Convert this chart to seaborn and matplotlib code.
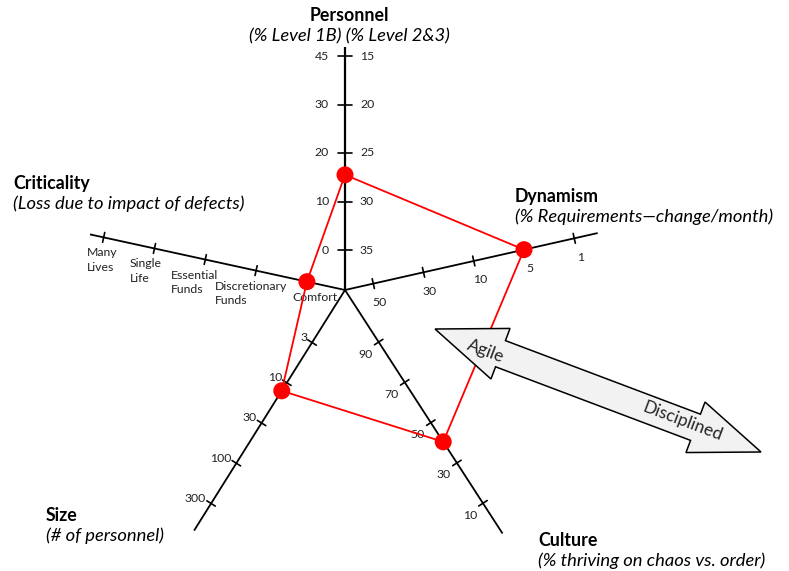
import matplotlib

matplotlib.use("Agg")
import matplotlib.patches as mpatches
import matplotlib.pyplot as plt
import numpy as np
import pandas as pd
import seaborn as sns

sns.set_theme(style="white")
plt.rcParams["font.family"] = ["Lato", "DejaVu Sans"]

# --- chart data -----------------------------------------------------------
personnel_1b_ticks = [0, 10, 20, 30, 45]
personnel_23_ticks = [35, 30, 25, 20, 15]
criticality_ticks = ["Comfort", "Discretionary\nFunds", "Essential\nFunds", "Single\nLife", "Many\nLives"]
dynamism_ticks = [50, 30, 10, 5, 1]
size_ticks = [3, 10, 30, 100, 300]
culture_ticks = [90, 70, 50, 30, 10]

personnel_value = 15.5      # % level 1B
criticality_value = "Comfort"
dynamism_value = 5
size_value = 14
culture_value = 40.5

# --- layout (pixel space, y down) -------------------------------------------
CX, CY = 345, 290
AXES = {
    # name: (angle deg, length, first tick radius, tick spacing)
    "Personnel": (90.0, 243, 40, 48.5),
    "Criticality": (167.7, 261, 39, 52),
    "Dynamism": (12.7, 259, 29, 51.5),
    "Size": (237.9, 284, 62, 47.5),
    "Culture": (302.9, 290, 62, 48),
}
CRIT_LABEL_DX = [8, -5, -11, -9, -1]   # nudges so the wrapped labels don't collide


def pt(name, r):
    ang = np.deg2rad(AXES[name][0])
    return CX + r * np.cos(ang), CY - r * np.sin(ang)


def tick_r(name, idx):
    _, _, first, step = AXES[name]
    return first + step * idx


def value_index(ticks, value):
    if isinstance(value, str):
        return ticks.index(value)
    t = np.asarray(ticks, dtype=float)
    idx = np.arange(len(t))
    if t[0] > t[-1]:
        t, idx = t[::-1], idx[::-1]
    return float(np.interp(value, t, idx))


fig = plt.figure(figsize=(7.89, 5.71), dpi=100)
ax = fig.add_axes([0, 0, 1, 1])

# axis spokes + tick marks
for name, (ang, length, first, step) in AXES.items():
    x1, y1 = pt(name, length)
    ax.plot([CX, x1], [CY, y1], color="black", lw=1.6 if name == "Personnel" else 1.3,
            solid_capstyle="butt", zorder=2)
    a = np.deg2rad(ang)
    nx, ny = -np.sin(a), -np.cos(a)
    half = 7 if name == "Personnel" else 5
    for k in range(5):
        tx, ty = pt(name, tick_r(name, k))
        ax.plot([tx - nx * half, tx + nx * half], [ty - ny * half, ty + ny * half],
                color="black", lw=1.2, zorder=2)

tick_kw = dict(fontsize=8.8, color="#222222")

for k, (left, right) in enumerate(zip(personnel_1b_ticks, personnel_23_ticks)):
    tx, ty = pt("Personnel", tick_r("Personnel", k))
    ax.text(tx - 16, ty, str(left), ha="right", va="center", **tick_kw)
    ax.text(tx + 15, ty, str(right), ha="left", va="center", **tick_kw)

for k, lab in enumerate(criticality_ticks):
    tx, ty = pt("Criticality", tick_r("Criticality", k))
    ax.text(tx + CRIT_LABEL_DX[k], ty + 10, lab, ha="center", va="top", multialignment="left",
            linespacing=1.35, **tick_kw)

for k, lab in enumerate(dynamism_ticks):
    tx, ty = pt("Dynamism", tick_r("Dynamism", k))
    ax.text(tx + 6, ty + 19, str(lab), ha="center", va="center", **tick_kw)

for k, lab in enumerate(size_ticks):
    tx, ty = pt("Size", tick_r("Size", k))
    ax.text(tx - 5, ty - 5, str(lab), ha="right", va="center", **tick_kw)

for k, lab in enumerate(culture_ticks):
    tx, ty = pt("Culture", tick_r("Culture", k))
    ax.text(tx - 13, ty + 12, str(lab), ha="center", va="center", **tick_kw)

# profile polygon
profile = [
    ("Personnel", value_index(personnel_1b_ticks, personnel_value)),
    ("Dynamism", value_index(dynamism_ticks, dynamism_value)),
    ("Culture", value_index(culture_ticks, culture_value)),
    ("Size", value_index(size_ticks, size_value)),
    ("Criticality", value_index(criticality_ticks, criticality_value)),
]
xs, ys = zip(*[pt(n, tick_r(n, i)) for n, i in profile])
df = pd.DataFrame({"x": list(xs) + [xs[0]], "y": list(ys) + [ys[0]]})
sns.lineplot(data=df, x="x", y="y", sort=False, estimator=None, color="red", lw=1.3, ax=ax, zorder=3)
sns.scatterplot(data=df.iloc[:-1], x="x", y="y", color="red", s=150, edgecolor="none", ax=ax, zorder=4)

# axis titles (bold name, italic unit line below)
title_kw = dict(fontsize=12.8, fontweight="bold", color="black")
sub_kw = dict(fontsize=13.2, fontstyle="italic", color="black")
TITLES = [
    (349, 21, "center", "Personnel", "(% Level 1B) (% Level 2&3)"),
    (13, 189, "left", "Criticality", "(Loss due to impact of defects)"),
    (515, 202, "left", "Dynamism", "(% Requirements\u2014change/month)"),
    (46, 521, "left", "Size", "(# of personnel)"),
    (538, 546, "left", "Culture", "(% thriving on chaos vs. order)"),
]
for x, y, ha, name, sub in TITLES:
    ax.text(x, y, name, ha=ha, va="baseline", **title_kw)
    ax.text(x, y + 20, sub, ha=ha, va="baseline", **sub_kw)

# Agile <-> Disciplined double arrow
tip1 = np.array([435.0, 329.0])
tip2 = np.array([761.0, 452.0])
u = (tip2 - tip1) / np.linalg.norm(tip2 - tip1)
n = np.array([u[1], -u[0]])
hl, hw, bw = 70, 27, 14
poly = [
    tip1,
    tip1 + u * hl + n * hw, tip1 + u * hl + n * bw,
    tip2 - u * hl + n * bw, tip2 - u * hl + n * hw,
    tip2,
    tip2 - u * hl - n * hw, tip2 - u * hl - n * bw,
    tip1 + u * hl - n * bw, tip1 + u * hl - n * hw,
]
ax.add_patch(mpatches.Polygon(poly, closed=True, facecolor="#f2f2f2", edgecolor="black", lw=1.1, zorder=5))
rot = -np.degrees(np.arctan2(tip2[1] - tip1[1], tip2[0] - tip1[0]))
ax.text(486, 351, "Agile", rotation=rot, rotation_mode="anchor", ha="center", va="center",
        fontsize=12.5, zorder=6)
ax.text(683, 421, "Disciplined", rotation=rot, rotation_mode="anchor", ha="center", va="center",
        fontsize=12.5, zorder=6)

ax.set_xlim(0, 789)
ax.set_ylim(571, 0)
ax.axis("off")

fig.savefig("out.png", dpi=100)
